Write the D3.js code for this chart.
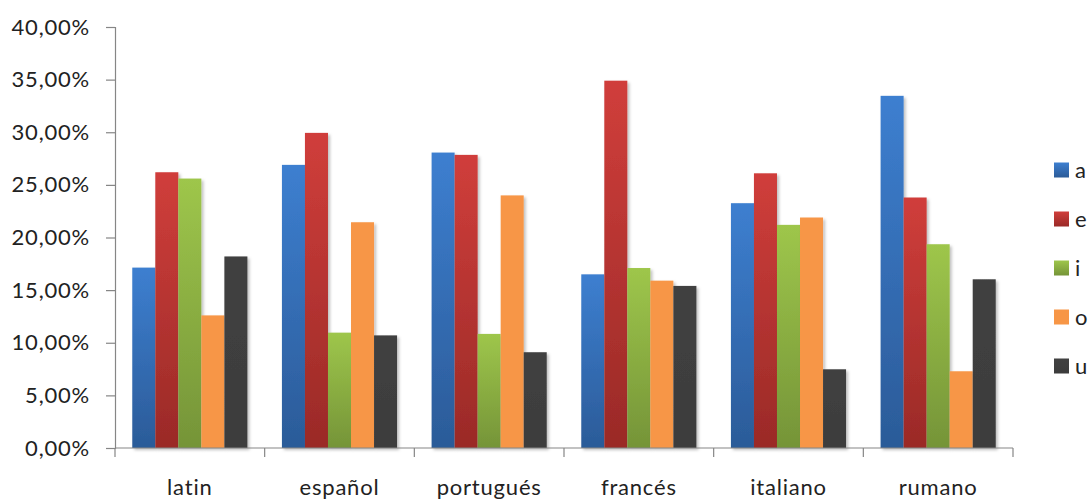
<!DOCTYPE html>
<html>
<head>
<meta charset="utf-8">
<script src="https://cdn.jsdelivr.net/npm/d3@7"></script>
<style>
  html, body { margin: 0; padding: 0; background: #fff; }
  svg { display: block; }
  text { font-family: Lato, "Open Sans", sans-serif; fill: #222; letter-spacing: 0.8px; }
</style>
</head>
<body>
<svg id="chart" width="1091" height="502"></svg>
<script>
const categories = ["latin", "español", "portugués", "francés", "italiano", "rumano"];
const seriesNames = ["a", "e", "i", "o", "u"];
const valuesA = [17.14, 26.9, 28.07, 16.5, 23.26, 33.46];
const valuesE = [26.2, 29.94, 27.85, 34.9, 26.1, 23.8];
const valuesI = [25.6, 10.96, 10.84, 17.1, 21.2, 19.36];
const valuesO = [12.6, 21.45, 24.0, 15.9, 21.9, 7.29];
const valuesU = [18.2, 10.7, 9.1, 15.4, 7.48, 16.03];
const yTicks = [0, 5, 10, 15, 20, 25, 30, 35, 40];

const seriesValues = [valuesA, valuesE, valuesI, valuesO, valuesU];
const colorsTop = ["#3d7fd0", "#d03e3b", "#9ec64b", "#f79646", "#414141"];
const colorsBottom = ["#2b5b98", "#9a2a27", "#759438", "#f79646", "#3c3c3c"];

const svg = d3.select("#chart");
const margin = { left: 115, right: 1013, top: 27, bottom: 448 };

const x0 = d3.scaleBand().domain(categories).range([margin.left, margin.right]).paddingInner(0).paddingOuter(0);
const x1 = d3.scaleBand().domain(seriesNames).range([0, x0.bandwidth()]).paddingInner(0).paddingOuter(0.75);
const y = d3.scaleLinear().domain([0, 40]).range([margin.bottom, margin.top]);

const defs = svg.append("defs");
seriesNames.forEach((s, i) => {
  const g = defs.append("linearGradient").attr("id", "grad" + i)
    .attr("x1", 0).attr("y1", 0).attr("x2", 0).attr("y2", 1);
  g.append("stop").attr("offset", "0%").attr("stop-color", colorsTop[i]);
  g.append("stop").attr("offset", "100%").attr("stop-color", colorsBottom[i]);
});
const filt = defs.append("filter").attr("id", "shadow").attr("x", "-20%").attr("y", "-5%").attr("width", "150%").attr("height", "115%");
filt.append("feDropShadow").attr("dx", 2).attr("dy", 2).attr("stdDeviation", 1.5).attr("flood-color", "#000").attr("flood-opacity", 0.25);

// Bars
const groups = svg.append("g").selectAll("g").data(categories).join("g")
  .attr("transform", d => `translate(${x0(d)},0)`);
groups.selectAll("rect")
  .data((c, ci) => seriesNames.map((s, si) => ({ s, si, v: seriesValues[si][ci] })))
  .join("rect")
  .attr("x", d => x1(d.s))
  .attr("y", d => y(d.v))
  .attr("width", x1.bandwidth())
  .attr("height", d => y(0) - y(d.v))
  .attr("fill", d => `url(#grad${d.si})`)
  .attr("filter", "url(#shadow)");

// Y axis
const yAxis = svg.append("g").attr("transform", `translate(${margin.left},0)`)
  .call(d3.axisLeft(y).tickValues(yTicks).tickSize(9).tickPadding(16)
    .tickFormat(d => d3.format(".2f")(d).replace(".", ",") + "%"));
yAxis.select(".domain").attr("stroke", "#868686").attr("stroke-width", 1.2);
yAxis.selectAll(".tick line").attr("stroke", "#868686").attr("stroke-width", 1.2);
yAxis.selectAll(".tick text").attr("font-size", 22).attr("font-family", null).attr("fill", null);

// X axis
const xAxisG = svg.append("g").attr("transform", `translate(0,${margin.bottom})`);
const xTickScale = d3.scalePoint().domain(d3.range(categories.length + 1)).range([margin.left, margin.right]);
xAxisG.append("line").attr("x1", margin.left).attr("x2", margin.right).attr("y1", 0).attr("y2", 0)
  .attr("stroke", "#868686").attr("stroke-width", 1.2);
xAxisG.selectAll("line.tk").data(d3.range(categories.length + 1)).join("line").attr("class", "tk")
  .attr("x1", d => xTickScale(d)).attr("x2", d => xTickScale(d)).attr("y1", 0).attr("y2", 9)
  .attr("stroke", "#868686").attr("stroke-width", 1.2);
xAxisG.selectAll("text").data(categories).join("text")
  .attr("x", d => x0(d) + x0.bandwidth() / 2)
  .attr("y", 47)
  .attr("text-anchor", "middle")
  .attr("font-size", 22)
  .text(d => d);

// Legend
const legend = svg.append("g").attr("transform", "translate(1054,0)");
const legendY = d3.scalePoint().domain(seriesNames).range([170, 366]);
legend.selectAll("rect").data(seriesNames).join("rect")
  .attr("x", 0).attr("y", d => legendY(d) - 7.5).attr("width", 15).attr("height", 15)
  .attr("fill", (d, i) => `url(#grad${i})`);
legend.selectAll("text").data(seriesNames).join("text")
  .attr("x", 21).attr("y", d => legendY(d)).attr("dy", "0.35em")
  .attr("font-size", 22).text(d => d);
</script>
</body>
</html>
